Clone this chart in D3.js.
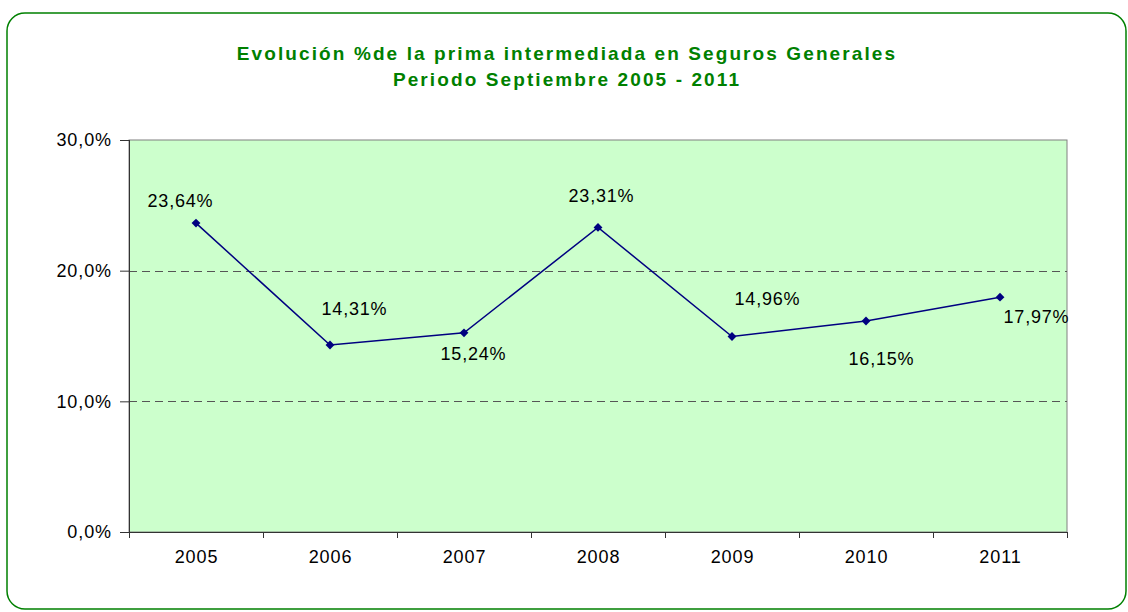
<!DOCTYPE html>
<html>
<head>
<meta charset="utf-8">
<script src="https://cdn.jsdelivr.net/npm/d3@7"></script>
<style>
  body { margin: 0; background: #fff; }
  svg { display: block; font-family: "Liberation Sans", Arial, sans-serif; }
</style>
</head>
<body>
<div id="wrapper"></div>
<script>
const years = ["2005", "2006", "2007", "2008", "2009", "2010", "2011"];
const values = [23.64, 14.31, 15.24, 23.31, 14.96, 16.15, 17.97];
const valueLabels = ["23,64%", "14,31%", "15,24%", "23,31%", "14,96%", "16,15%", "17,97%"];
const yTicks = [0, 10, 20, 30];
const titleLines = ["Evolución %de la prima intermediada en Seguros Generales", "Periodo Septiembre 2005 - 2011"];

// label offsets relative to the point (dx to centre, dy to baseline)
const labelOffsets = [[-16, -16], [24, -30], [9, 27], [3, -25], [35, -32], [15, 44], [36, 26]];

const dimensions = {
  width: 1128,
  height: 612,
  margin: { top: 140, right: 61, bottom: 80, left: 129 },
};
dimensions.boundedWidth = dimensions.width - dimensions.margin.left - dimensions.margin.right;
dimensions.boundedHeight = dimensions.height - dimensions.margin.top - dimensions.margin.bottom;

const wrapper = d3.select("#wrapper")
  .append("svg")
    .attr("width", dimensions.width)
    .attr("height", dimensions.height);

wrapper.append("rect")
  .attr("x", 7)
  .attr("y", 13)
  .attr("width", 1119)
  .attr("height", 596)
  .attr("rx", 18)
  .attr("fill", "none")
  .attr("stroke", "#008000")
  .attr("stroke-width", 1.5);

wrapper.append("text")
  .attr("fill", "#008000")
  .style("font-size", "19px")
  .style("font-weight", "bold")
  .style("letter-spacing", "2.1px")
  .style("text-anchor", "middle")
  .selectAll("tspan")
  .data(titleLines)
  .join("tspan")
    .attr("x", 567)
    .attr("y", (d, i) => 60 + i * 26)
    .text(d => d);

const bounds = wrapper.append("g")
  .attr("transform", `translate(${dimensions.margin.left}, ${dimensions.margin.top})`);

const xScale = d3.scaleBand()
  .domain(years)
  .range([0, dimensions.boundedWidth]);

const yScale = d3.scaleLinear()
  .domain([0, 30])
  .range([dimensions.boundedHeight, 0]);

bounds.append("rect")
  .attr("width", dimensions.boundedWidth)
  .attr("height", dimensions.boundedHeight)
  .attr("fill", "#ccffcc")
  .attr("stroke", "#808080")
  .attr("stroke-width", 1);

bounds.selectAll(".grid")
  .data([10, 20])
  .join("line")
    .attr("class", "grid")
    .attr("x1", 0)
    .attr("x2", dimensions.boundedWidth)
    .attr("y1", d => Math.round(yScale(d)) + 0.5)
    .attr("y2", d => Math.round(yScale(d)) + 0.5)
    .attr("stroke", "#555")
    .attr("stroke-dasharray", "8 5");

const yAxis = bounds.append("g")
  .call(d3.axisLeft(yScale)
    .tickValues(yTicks)
    .tickSize(9)
    .tickPadding(8)
    .tickFormat(d => d3.format(".1f")(d).replace(".", ",") + "%"));
yAxis.selectAll("text")
  .style("font-size", "18px")
  .style("letter-spacing", "0.9px")
  .attr("fill", "#000");
yAxis.selectAll("line").attr("stroke", "#333");
yAxis.select(".domain").attr("stroke", "#333").attr("d", `M0.5,0V${dimensions.boundedHeight}`);

const xAxis = bounds.append("g")
  .attr("transform", `translate(0, ${dimensions.boundedHeight})`)
  .call(d3.axisBottom(xScale).tickSize(0).tickPadding(18));
xAxis.selectAll("text")
  .style("font-size", "18px")
  .style("letter-spacing", "0.9px")
  .attr("dx", "0.5px")
  .attr("fill", "#000");
xAxis.select(".domain").attr("stroke", "#333").attr("d", `M0,0.5H${dimensions.boundedWidth}`);

bounds.selectAll(".xtick")
  .data(years.map(y => xScale(y)).concat([dimensions.boundedWidth]))
  .join("line")
    .attr("class", "xtick")
    .attr("x1", d => Math.round(d) + 0.5)
    .attr("x2", d => Math.round(d) + 0.5)
    .attr("y1", dimensions.boundedHeight)
    .attr("y2", dimensions.boundedHeight + 6)
    .attr("stroke", "#333");

const xAccessor = (d, i) => xScale(years[i]) + xScale.bandwidth() / 2;
const yAccessor = d => yScale(d);

const lineGenerator = d3.line()
  .x((d, i) => xAccessor(d, i))
  .y(d => yAccessor(d));

bounds.append("path")
  .datum(values)
  .attr("d", lineGenerator)
  .attr("fill", "none")
  .attr("stroke", "#000080")
  .attr("stroke-width", 1.5);

bounds.selectAll(".marker")
  .data(values)
  .join("path")
    .attr("class", "marker")
    .attr("d", d3.symbol(d3.symbolDiamond2, 50))
    .attr("transform", (d, i) => `translate(${xAccessor(d, i)}, ${yAccessor(d)})`)
    .attr("fill", "#000080");

bounds.selectAll(".value-label")
  .data(values)
  .join("text")
    .attr("class", "value-label")
    .attr("x", (d, i) => xAccessor(d, i) + labelOffsets[i][0] + 0.5)
    .attr("y", (d, i) => yAccessor(d) + labelOffsets[i][1])
    .style("font-size", "18px")
    .style("letter-spacing", "0.8px")
    .style("text-anchor", "middle")
    .attr("fill", "#000")
    .text((d, i) => valueLabels[i]);
</script>
</body>
</html>
